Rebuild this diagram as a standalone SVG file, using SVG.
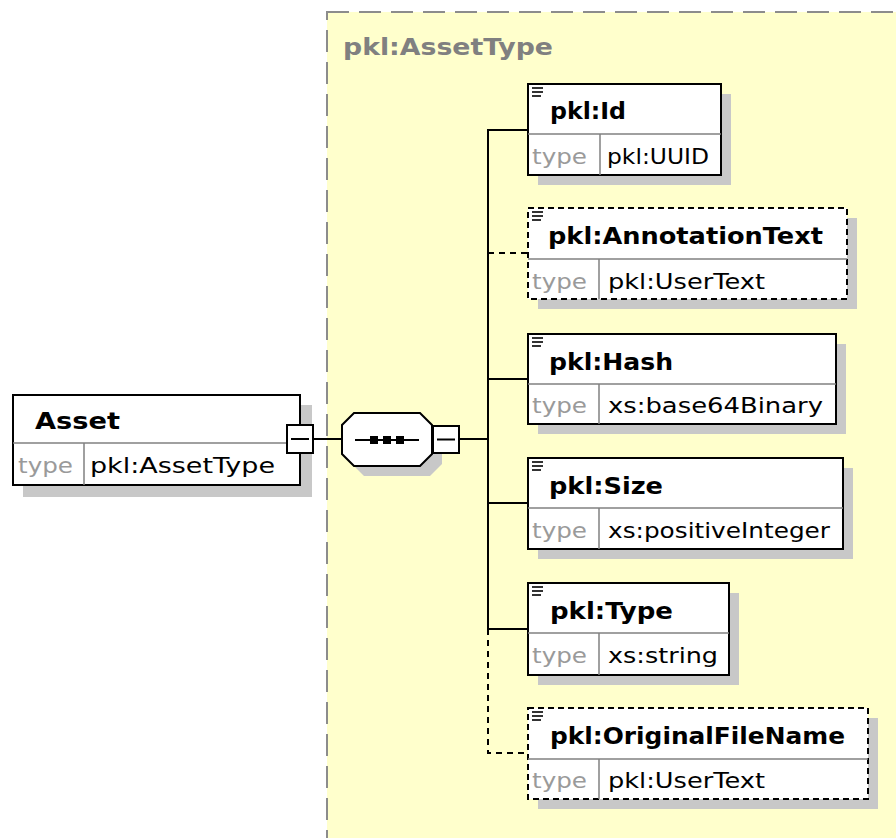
<svg xmlns="http://www.w3.org/2000/svg" width="896" height="838" viewBox="0 0 896 838">
<style>
.bg{fill:#fff}
.region{fill:#FFFFCC;stroke:#8c8c8c;stroke-width:2;stroke-dasharray:22 10}
.title{font-family:"DejaVu Sans",sans-serif;font-weight:bold;font-size:23px;fill:#808080}
.shadow{fill:#c8c8c8}
.box{fill:#fff;stroke:#000;stroke-width:2}
.opt{stroke-dasharray:6 4}
.div{stroke:#808080;stroke-width:1.5;fill:none}
.name{font-family:"DejaVu Sans",sans-serif;font-weight:bold;font-size:23px;fill:#000}
.tl{font-family:"DejaVu Sans",sans-serif;font-size:22px;fill:#9a9a9a}
.tv{font-family:"DejaVu Sans",sans-serif;font-size:22px;fill:#000}
.icon{stroke:#000;stroke-width:1.6}
.conn{stroke:#000;stroke-width:2;fill:none}
.dash{stroke-dasharray:6 5}
.mbox{fill:#fff;stroke:#000;stroke-width:2}
</style>
<defs>
<g id="ico"><line class="icon" x1="0" y1="0" x2="11" y2="0"/><line class="icon" x1="0" y1="4" x2="11" y2="4"/><line class="icon" x1="0" y1="8" x2="9" y2="8"/></g>
</defs>
<rect class="bg" x="0" y="0" width="896" height="838"/>
<rect class="region" x="327" y="12" width="600" height="860"/>
<text class="title" x="343" y="55" textLength="210" lengthAdjust="spacingAndGlyphs">pkl:AssetType</text>

<g id="connectors">
<line class="conn" x1="313" y1="439" x2="342" y2="439"/>
<line class="conn" x1="459" y1="439" x2="488" y2="439"/>
<polyline class="conn" points="528,130 488,130 488,629 528,629"/>
<line class="conn" x1="488" y1="379" x2="528" y2="379"/>
<line class="conn" x1="488" y1="503" x2="528" y2="503"/>
<line class="conn dash" x1="488" y1="253" x2="528" y2="253"/>
<polyline class="conn dash" points="488,629 488,753 528,753"/>
</g>

<g id="asset">
<rect class="shadow" x="23" y="405" width="289" height="92"/>
<rect class="box" x="13" y="395" width="287" height="90"/>
<line class="div" x1="13" y1="443" x2="300" y2="443"/>
<line class="div" x1="84" y1="443" x2="84" y2="485"/>
<text class="name" x="35" y="429" textLength="85" lengthAdjust="spacingAndGlyphs">Asset</text>
<text class="tl" x="18" y="473" textLength="55" lengthAdjust="spacingAndGlyphs">type</text>
<text class="tv" x="90" y="473" textLength="185" lengthAdjust="spacingAndGlyphs">pkl:AssetType</text>
<rect class="mbox" x="287" y="425" width="26" height="28"/>
<line class="conn" x1="291" y1="439" x2="309" y2="439"/>
</g>

<g id="sequence">
<polygon class="shadow" points="364,423 430,423 442,435 442,464 430,476 364,476 352,464 352,435"/>
<polygon class="box" points="354,413 420,413 432,425 432,454 420,466 354,466 342,454 342,425"/>
<line class="conn" x1="355" y1="440" x2="419" y2="440"/>
<rect x="370" y="436" width="8" height="8" fill="#000"/>
<rect x="383" y="436" width="8" height="8" fill="#000"/>
<rect x="396" y="436" width="8" height="8" fill="#000"/>
<rect class="mbox" x="433" y="426" width="26" height="27"/>
<line class="conn" x1="437" y1="439.5" x2="455" y2="439.5"/>
</g>

<g id="id">
<rect class="shadow" x="538" y="94" width="193" height="91"/>
<rect class="box" x="528" y="84" width="193" height="91"/>
<line class="div" x1="528" y1="134" x2="721" y2="134"/>
<line class="div" x1="600" y1="134" x2="600" y2="175"/>
<use href="#ico" x="532" y="88"/>
<text class="name" x="550" y="119" textLength="76" lengthAdjust="spacingAndGlyphs">pkl:Id</text>
<text class="tl" x="532" y="164" textLength="55" lengthAdjust="spacingAndGlyphs">type</text>
<text class="tv" x="607" y="164" textLength="102" lengthAdjust="spacingAndGlyphs">pkl:UUID</text>
</g>

<g id="annotationtext">
<rect class="shadow" x="538" y="218" width="319" height="91"/>
<rect class="box opt" x="528" y="208" width="319" height="91"/>
<line class="div" x1="528" y1="259" x2="847" y2="259"/>
<line class="div" x1="599" y1="259" x2="599" y2="299"/>
<use href="#ico" x="532" y="212"/>
<text class="name" x="548" y="244" textLength="275" lengthAdjust="spacingAndGlyphs">pkl:AnnotationText</text>
<text class="tl" x="532" y="289" textLength="55" lengthAdjust="spacingAndGlyphs">type</text>
<text class="tv" x="608" y="289" textLength="157" lengthAdjust="spacingAndGlyphs">pkl:UserText</text>
</g>

<g id="hash">
<rect class="shadow" x="538" y="344" width="308" height="90"/>
<rect class="box" x="528" y="334" width="308" height="90"/>
<line class="div" x1="528" y1="384" x2="836" y2="384"/>
<line class="div" x1="599" y1="384" x2="599" y2="424"/>
<use href="#ico" x="532" y="338"/>
<text class="name" x="549" y="370" textLength="124" lengthAdjust="spacingAndGlyphs">pkl:Hash</text>
<text class="tl" x="532" y="413" textLength="55" lengthAdjust="spacingAndGlyphs">type</text>
<text class="tv" x="608" y="413" textLength="215" lengthAdjust="spacingAndGlyphs">xs:base64Binary</text>
</g>

<g id="size">
<rect class="shadow" x="538" y="468" width="315" height="91"/>
<rect class="box" x="528" y="458" width="315" height="91"/>
<line class="div" x1="528" y1="508" x2="843" y2="508"/>
<line class="div" x1="599" y1="508" x2="599" y2="549"/>
<use href="#ico" x="532" y="462"/>
<text class="name" x="549" y="494" textLength="114" lengthAdjust="spacingAndGlyphs">pkl:Size</text>
<text class="tl" x="532" y="538" textLength="55" lengthAdjust="spacingAndGlyphs">type</text>
<text class="tv" x="608" y="538" textLength="222" lengthAdjust="spacingAndGlyphs">xs:positiveInteger</text>
</g>

<g id="type">
<rect class="shadow" x="538" y="593" width="201" height="92"/>
<rect class="box" x="528" y="583" width="201" height="92"/>
<line class="div" x1="528" y1="633" x2="729" y2="633"/>
<line class="div" x1="599" y1="633" x2="599" y2="675"/>
<use href="#ico" x="532" y="587"/>
<text class="name" x="550" y="619" textLength="123" lengthAdjust="spacingAndGlyphs">pkl:Type</text>
<text class="tl" x="532" y="663" textLength="55" lengthAdjust="spacingAndGlyphs">type</text>
<text class="tv" x="608" y="663" textLength="110" lengthAdjust="spacingAndGlyphs">xs:string</text>
</g>

<g id="originalfilename">
<rect class="shadow" x="538" y="718" width="340" height="91"/>
<rect class="box opt" x="528" y="708" width="340" height="91"/>
<line class="div" x1="528" y1="759" x2="868" y2="759"/>
<line class="div" x1="599" y1="759" x2="599" y2="799"/>
<use href="#ico" x="532" y="712"/>
<text class="name" x="550" y="744" textLength="295" lengthAdjust="spacingAndGlyphs">pkl:OriginalFileName</text>
<text class="tl" x="532" y="788" textLength="55" lengthAdjust="spacingAndGlyphs">type</text>
<text class="tv" x="608" y="788" textLength="157" lengthAdjust="spacingAndGlyphs">pkl:UserText</text>
</g>
</svg>
